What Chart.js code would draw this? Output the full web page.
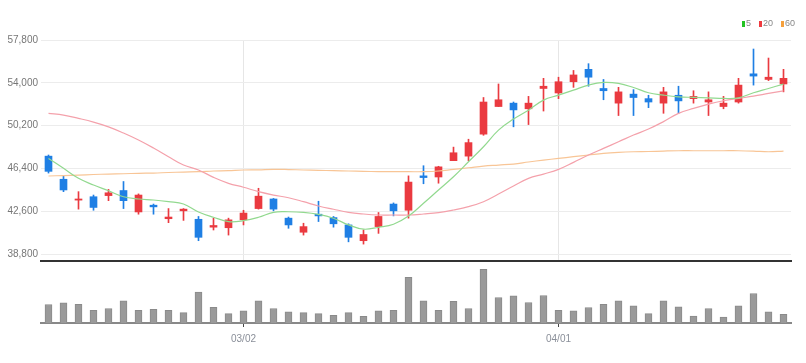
<!DOCTYPE html>
<html>
<head>
<meta charset="utf-8">
<script src="https://cdn.jsdelivr.net/npm/chart.js@4.4.0/dist/chart.umd.min.js"></script>
<style>
  body { margin: 0; background: #fff; }
  #wrap { position: relative; width: 806px; height: 363px; }
  #price { position: absolute; left: 0; top: 0; }
  #vol { position: absolute; left: 0; top: 262px; }
  #legend { position: absolute; top: 18px; left: 742px; font: 9px 'Liberation Sans Narrow', 'Liberation Sans', sans-serif; color: #888; white-space: nowrap; }
  #legend span.box { display: inline-block; width: 3px; height: 6px; margin-right: 1px; vertical-align: -1px; }
  #legend span.txt { margin-right: 8px; }
</style>
</head>
<body>
<div id="wrap">
  <canvas id="price" width="806" height="262"></canvas>
  <canvas id="vol" width="806" height="101"></canvas>
  <div id="legend">
    <span class="box" style="background:#22c322"></span><span class="txt">5</span><span class="box" style="background:#ef3a3f"></span><span class="txt">20</span><span class="box" style="background:#f5a03c"></span><span class="txt" style="margin-right:0">60</span>
  </div>
</div>
<script>
// trading days (2022)
var labels = ['02/10','02/11','02/14','02/15','02/16','02/17','02/18','02/21','02/22','02/23',
  '02/24','02/25','02/28','03/02','03/03','03/04','03/07','03/08','03/10','03/11',
  '03/14','03/15','03/16','03/17','03/18','03/21','03/22','03/23','03/24','03/25',
  '03/28','03/29','03/30','03/31','04/01','04/04','04/05','04/06','04/07','04/08',
  '04/11','04/12','04/13','04/14','04/15','04/18','04/19','04/20','04/21','04/22'];
var tickLabels = ['03/02', '04/01'];
var priceTicks = [38800, 42600, 46400, 50200, 54000, 57800];

var opens  = [47500,45450,43600,43900,44000,44450,42550,43150,41950,42650,
  41900,41200,41150,41850,42850,43700,42000,40750,42350,42050,
  41400,40000,41250,43250,42700,45750,45650,47100,47500,49450,
  51900,52200,51700,53500,53100,54100,55200,53500,52200,53000,
  52600,52200,52900,52600,52300,51900,52300,54800,54300,53900];
var highs  = [47600,45800,44350,44050,44550,45250,44150,43250,42850,42850,
  42150,42000,42000,42700,44650,43750,42100,41550,43500,42150,
  41500,40950,42500,43350,45750,46650,46600,48300,49000,52700,
  53900,52300,52800,54400,54500,55100,55700,54300,53600,53400,
  52900,53600,53700,53300,53200,52800,54400,57000,56200,55200];
var lows   = [46000,44350,42800,42700,43550,42850,42350,42350,41600,41800,
  40000,40950,40500,41400,42800,42650,41100,40500,41700,41200,
  39900,39700,40650,42200,42000,45050,45100,47100,47100,49350,
  51900,50100,50300,51500,52600,53600,53700,52500,51100,51100,
  51800,51300,51300,52200,51100,51700,52200,53800,54200,53200];
var closes = [46150,44500,43700,42950,44250,43550,44050,43000,42100,42800,
  40300,41350,41850,42450,43950,42800,41400,41250,42200,41500,
  40300,40550,42150,42650,45200,45600,46550,47800,48700,52300,
  52500,51600,52200,53700,54100,54700,54500,53300,53200,52700,
  52300,53200,52400,52800,52500,52200,53800,54600,54500,54400];

// moving averages
var ma5  = [47300,46420,45530,44940,44430,43900,43700,43610,43460,43260,
  42550,42080,41690,41780,42080,42520,42570,42520,42340,41990,
  41400,41020,41190,41460,42190,43320,44500,45670,47000,48330,
  49810,50790,51580,52470,52910,53350,53800,54040,53950,53590,
  53120,52910,52760,52710,52670,52620,52670,53120,53500,53890];
var ma20 = [51290,51140,50850,50520,50100,49550,48930,48220,47450,46710,
  46270,45620,45090,44740,44350,44050,43810,43460,43080,42790,
  42520,42370,42280,42280,42280,42370,42490,42720,43020,43460,
  44140,44850,45530,45910,46330,46950,47600,48190,48770,49370,
  49900,50560,51290,51730,52110,52410,52620,52820,53060,53290];
var ma60 = [45740,45780,45820,45870,45910,45940,45980,46000,46050,46090,
  46120,46180,46220,46270,46290,46330,46310,46270,46240,46210,
  46180,46150,46130,46120,46120,46120,46180,46330,46470,46620,
  46710,46800,46980,47150,47300,47450,47600,47750,47840,47890,
  47910,47950,47980,47980,47980,47980,47980,47950,47890,47950];

// volume (thousand shares)
var volumes = [368,400,374,254,288,440,254,274,254,208,
  614,314,188,240,440,288,220,208,188,154,
  208,134,240,254,908,440,254,434,288,1068,
  508,540,408,548,254,240,308,374,440,340,
  188,440,320,140,288,120,340,588,220,174];

var UP = '#ea3a40', DOWN = '#1f7fe4';
var bodies = [], wicks = [], colors = [];
for (var i = 0; i < labels.length; i++) {
  bodies.push([opens[i], closes[i]]);
  wicks.push([lows[i], highs[i]]);
  colors.push(closes[i] >= opens[i] ? UP : DOWN);
}

var font = { family: "'Liberation Sans Narrow', 'Liberation Sans', sans-serif", size: 10 };

function markIdx(ctx) {
  var l = labels[ctx.index];
  return tickLabels.indexOf(l) >= 0;
}

new Chart(document.getElementById('price'), {
  type: 'bar',
  data: {
    labels: labels,
    datasets: [
      { type: 'line', label: '5', data: ma5, borderColor: '#92d98f', borderWidth: 1.2, pointRadius: 0, tension: 0.4, order: 0 },
      { type: 'line', label: '20', data: ma20, borderColor: '#f4a1ab', borderWidth: 1.2, pointRadius: 0, tension: 0.4, order: 0 },
      { type: 'line', label: '60', data: ma60, borderColor: '#f8c596', borderWidth: 1.2, pointRadius: 0, tension: 0.4, order: 0 },
      { label: 'body', data: bodies, backgroundColor: colors, barThickness: 7, minBarLength: 1, grouped: false, order: 1 },
      { label: 'wick', data: wicks, backgroundColor: colors, barThickness: 1, grouped: false, order: 2 }
    ]
  },
  options: {
    responsive: false,
    animation: false,
    layout: { padding: { top: 40, right: 15, left: 0, bottom: 0 } },
    plugins: { legend: { display: false }, tooltip: { enabled: false } },
    scales: {
      x: {
        offset: true,
        grid: { offset: false, drawTicks: false, color: function (ctx) { return markIdx(ctx) ? '#e6e6e6' : 'rgba(0,0,0,0)'; } },
        ticks: { display: false, autoSkip: false },
        border: { color: '#333', width: 2 },
        afterFit: function (s) { s.height = 1; s.paddingLeft = 0; s.paddingRight = 0; }
      },
      y: {
        min: 38200,
        max: 57800,
        afterBuildTicks: function (s) { s.ticks = priceTicks.map(function (v) { return { value: v }; }); },
        // fixed width, and no extra room for the edge labels
        afterFit: function (s) { s.width = 41; s.paddingTop = 0; s.paddingBottom = 0; },
        grid: { color: '#ececec', drawTicks: false },
        border: { display: false },
        ticks: { font: font, color: '#777', padding: 3, callback: function (v) { return v.toLocaleString('en-US'); } }
      }
    }
  }
});

new Chart(document.getElementById('vol'), {
  type: 'bar',
  data: {
    labels: labels,
    datasets: [
      { label: 'volume', data: volumes, backgroundColor: '#9a9a9a', borderColor: '#8a8a8a', borderWidth: 1, barThickness: 7 }
    ]
  },
  options: {
    responsive: false,
    animation: false,
    layout: { padding: { top: 2, right: 15, left: 41, bottom: 0 } },
    plugins: { legend: { display: false }, tooltip: { enabled: false } },
    scales: {
      x: {
        offset: true,
        grid: { offset: false, drawOnChartArea: false, drawTicks: true, tickLength: 4, color: function (ctx) { return markIdx(ctx) ? '#444' : 'rgba(0,0,0,0)'; } },
        border: { color: '#888', width: 2 },
        ticks: {
          autoSkip: false, maxRotation: 0, font: font, color: '#8a8f99', padding: 6,
          callback: function (v, i) { return tickLabels.indexOf(labels[i]) >= 0 ? labels[i] : ''; }
        },
        afterFit: function (s) { s.height = 40; s.paddingLeft = 0; s.paddingRight = 0; }
      },
      y: { display: false, min: 0, max: 1175 }
    }
  }
});
</script>
</body>
</html>
